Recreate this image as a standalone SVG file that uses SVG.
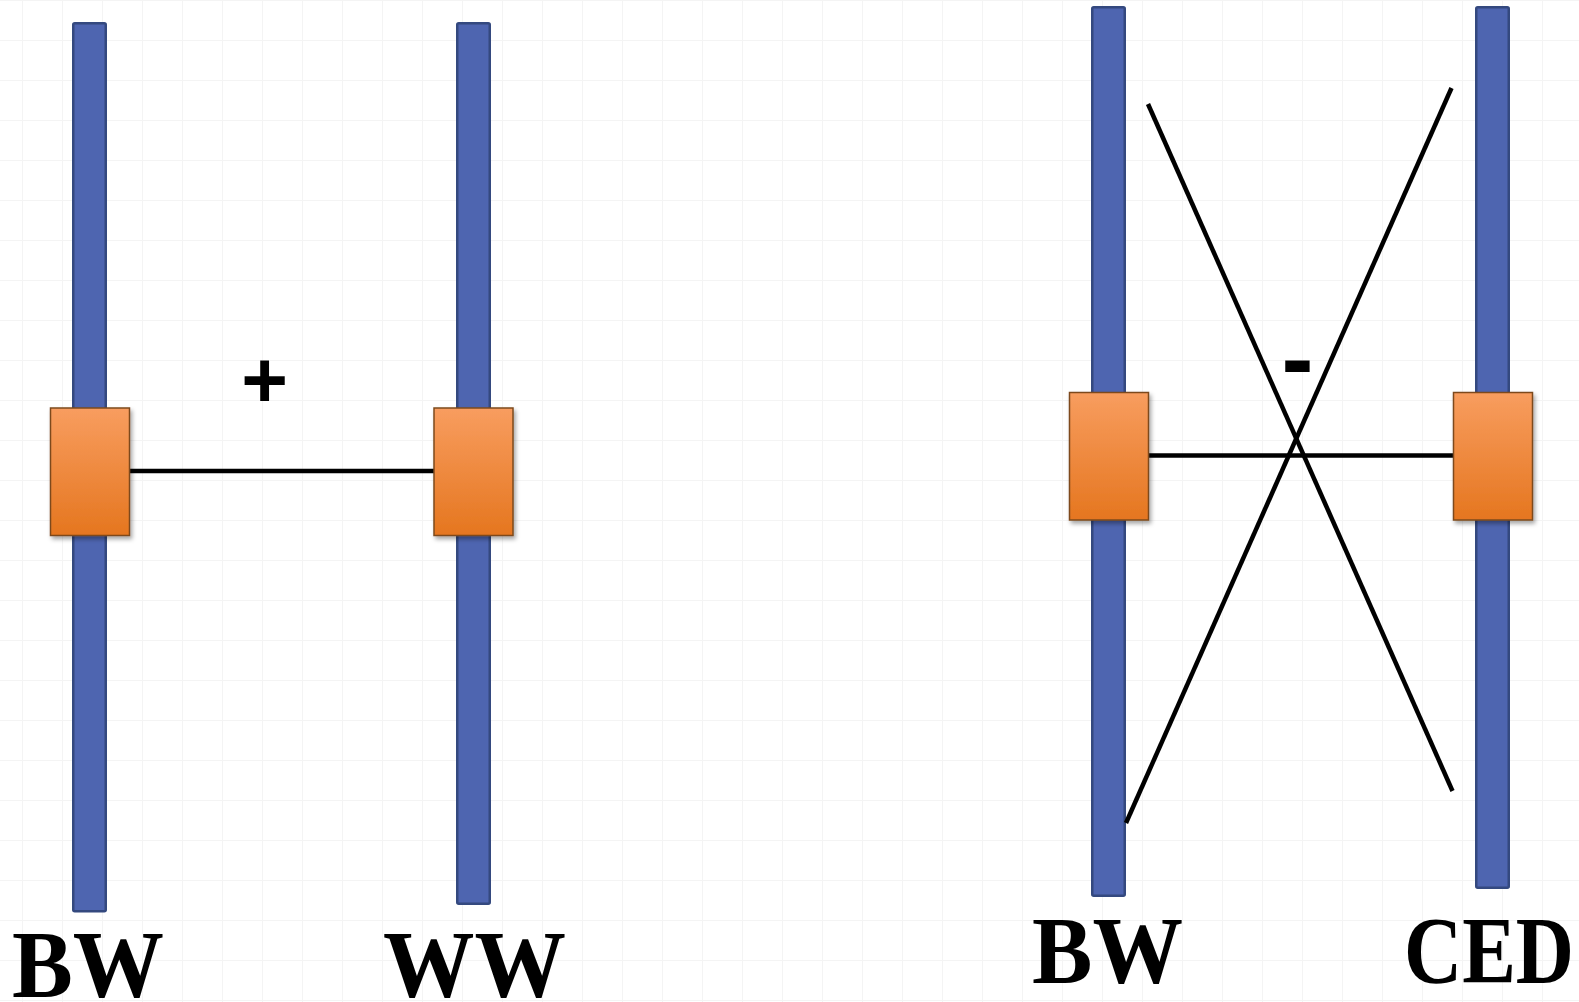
<svg xmlns="http://www.w3.org/2000/svg" width="1579" height="1002" viewBox="0 0 1579 1002">
  <defs>
    <pattern id="grid" x="22" y="0" width="40" height="40" patternUnits="userSpaceOnUse">
      <path d="M0 0 V40 M0 0 H40" fill="none" stroke="#f4f4f4" stroke-width="2"/>
    </pattern>
    <linearGradient id="orangeGrad" x1="0" y1="0" x2="0" y2="1">
      <stop offset="0" stop-color="#f89d5f"/>
      <stop offset="1" stop-color="#e5761f"/>
    </linearGradient>
    <filter id="shadow" x="-20%" y="-20%" width="150%" height="150%">
      <feDropShadow dx="2" dy="3" stdDeviation="2" flood-color="#000" flood-opacity="0.35"/>
    </filter>
  </defs>
  <style>
    .bar { fill: #4e65b0; stroke: #34497f; stroke-width: 2.5; }
    .box { fill: url(#orangeGrad); stroke: #7d4a1e; stroke-width: 1.5; filter: url(#shadow); }
    .link { stroke: #000; stroke-width: 4.5; fill: none; }
    .label { font-family: "Liberation Serif", "Times New Roman", serif; font-weight: bold; font-size: 95px; fill: #000; }
    .sign { font-family: "Liberation Sans", Arial, sans-serif; font-weight: bold; fill: #000; text-anchor: middle; }
  </style>
  <rect width="1579" height="1002" fill="#ffffff"/>
  <rect width="1579" height="1002" fill="url(#grid)"/>

  <g id="bar-bw-left"><rect class="bar" x="73.25" y="23.25" width="32.5" height="888" rx="1.5"/></g>
  <g id="bar-ww"><rect class="bar" x="457.25" y="23.25" width="32.5" height="880.5" rx="1.5"/></g>
  <g id="bar-bw-right"><rect class="bar" x="1092.25" y="7.25" width="32.5" height="888.5" rx="1.5"/></g>
  <g id="bar-ced"><rect class="bar" x="1476.25" y="7.25" width="32.5" height="880.5" rx="1.5"/></g>

  <g id="connectors">
    <line class="link" x1="130" y1="471" x2="434" y2="471"/>
    <line class="link" x1="1149" y1="455.5" x2="1453" y2="455.5"/>
    <line class="link" x1="1148" y1="104" x2="1452.5" y2="791"/>
    <line class="link" x1="1451.5" y1="88" x2="1126" y2="823"/>
  </g>

  <g id="box-bw-left"><rect class="box" x="50.5" y="408" width="79" height="127.5"/></g>
  <g id="box-ww"><rect class="box" x="434" y="408" width="79" height="127.5"/></g>
  <g id="box-bw-right"><rect class="box" x="1069.5" y="392.5" width="79" height="127.5"/></g>
  <g id="box-ced"><rect class="box" x="1453.5" y="392.5" width="79" height="127.5"/></g>

  <g id="sign-plus"><text class="sign" x="264.5" y="407" font-size="80">+</text></g>
  <g id="sign-minus"><text class="sign" x="1297.5" y="391" font-size="96">-</text></g>

  <g id="label-bw-left"><text class="label" x="12" y="997" textLength="152" lengthAdjust="spacingAndGlyphs">BW</text></g>
  <g id="label-ww"><text class="label" x="383" y="997" textLength="183" lengthAdjust="spacingAndGlyphs">WW</text></g>
  <g id="label-bw-right"><text class="label" x="1032" y="983" textLength="151" lengthAdjust="spacingAndGlyphs">BW</text></g>
  <g id="label-ced"><text class="label" x="1404" y="983" textLength="170" lengthAdjust="spacingAndGlyphs">CED</text></g>
</svg>
